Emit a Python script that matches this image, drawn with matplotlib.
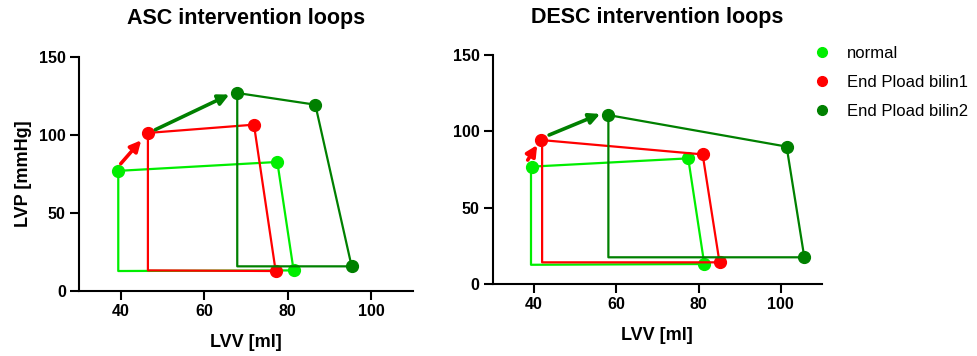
import numpy as np
import matplotlib
matplotlib.use("Agg")
import matplotlib.pyplot as plt
from matplotlib.lines import Line2D

plt.rcParams['font.family'] = ['Liberation Sans', 'DejaVu Sans']

labels = ["normal", "End Pload bilin1", "End Pload bilin2"]
colors = ["#00ee00", "#ff0000", "#008000"]

# loops: volume / pressure, last corner has no marker
asc_vol = [[39.4, 77.5, 81.4, 39.4, 39.4],
           [46.5, 71.9, 77.1, 46.5, 46.5],
           [67.9, 86.6, 95.3, 67.9, 67.9]]
asc_pres = [[77, 82.7, 13.2, 12.8, 77],
            [101.3, 106.6, 12.8, 13.2, 101.3],
            [126.9, 119.4, 15.8, 15.8, 126.9]]
desc_vol = [[39.6, 77.5, 81.4, 39.3, 39.3],
            [41.8, 81.0, 85.1, 42.0, 42.0],
            [58.0, 101.4, 105.7, 58.1, 58.1]]
desc_pres = [[76.9, 82.3, 13.1, 12.6, 76.9],
             [94.3, 84.9, 14.2, 14.2, 94.3],
             [110.7, 90.0, 17.5, 17.5, 110.7]]

# arrows (start, end) for bilin1 and bilin2
asc_arrows = [((40.0, 81.6), (44.9, 96.6)), ((48.3, 103.4), (66.0, 125.9))]
desc_arrows = [((38.5, 81.2), (40.8, 91.0)), ((43.7, 97.6), (56.1, 111.4))]

fig = plt.figure(figsize=(9.78, 3.56), dpi=100)
ax1 = fig.add_axes([0.0808, 0.1826, 0.3415, 0.6574])
ax2 = fig.add_axes([0.5038, 0.2022, 0.3367, 0.6433])


def draw(ax, vol, pres, arrows, title, tpad):
    for i in range(3):
        ax.plot(vol[i], pres[i], color=colors[i], lw=1.6, marker='o',
                markersize=8.5, markevery=[0, 1, 2], clip_on=False, zorder=3)
    for k, (s, e) in enumerate(arrows):
        ax.annotate("", xy=e, xytext=s,
                    arrowprops=dict(arrowstyle='-|>', color=colors[k + 1],
                                    lw=2.6, mutation_scale=16,
                                    shrinkA=0, shrinkB=0))
    ax.set_xlim(30, 110)
    ax.set_ylim(0, 150)
    ax.set_xticks([40, 60, 80, 100])
    ax.set_yticks([0, 50, 100, 150])
    for sp in ['top', 'right']:
        ax.spines[sp].set_visible(False)
    for sp in ['left', 'bottom']:
        ax.spines[sp].set_linewidth(1.5)
    ax.tick_params(length=6.5, width=1.5, labelsize=11.5, pad=3)
    for t in ax.get_xticklabels() + ax.get_yticklabels():
        t.set_fontweight('bold')
    ax.set_xlabel("LVV [ml]", fontsize=13, fontweight='bold', labelpad=11)
    ax.set_title(title, fontsize=15.5, fontweight='bold', pad=tpad)


draw(ax1, asc_vol, asc_pres, asc_arrows, "ASC intervention loops", 24)
draw(ax2, desc_vol, desc_pres, desc_arrows, "DESC intervention loops", 23)
ax1.set_ylabel("LVP [mmHg]", fontsize=13, fontweight='bold', labelpad=5)

handles = [Line2D([], [], color=c, marker='o', linestyle='', markersize=7)
           for c in colors]
fig.legend(handles, labels, loc='upper left', bbox_to_anchor=(0.8215, 0.895),
           frameon=False, fontsize=12, handletextpad=0.9, labelspacing=0.85,
           handlelength=1.2, borderpad=0)

fig.savefig("out.png", dpi=100)
